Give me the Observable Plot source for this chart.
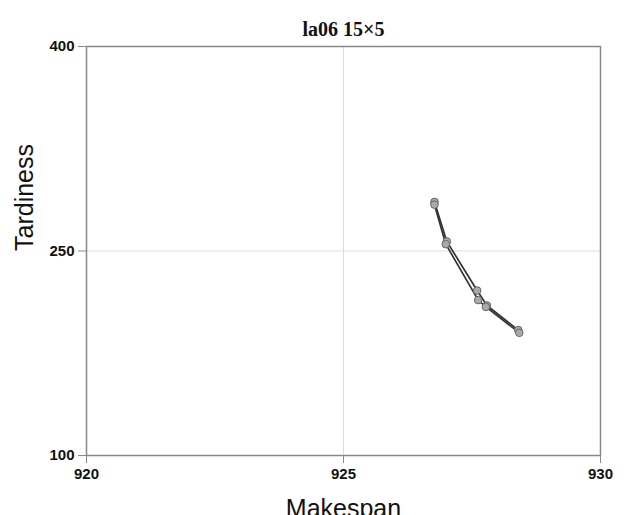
<!DOCTYPE html>
<html><head><meta charset="utf-8">
<script src="https://cdn.jsdelivr.net/npm/d3@7"></script>
<script src="https://cdn.jsdelivr.net/npm/@observablehq/plot@0.6"></script>
<style>body{margin:0;background:#fff}</style>
</head><body><div id="chart"></div>
<script>
const title = "la06 15×5";
const xLabel = "Makespan";
const yLabel = "Tardiness";
const xTicks = [920, 925, 930];
const yTicks = [100, 250, 400];
const seriesA_makespan = [926.77, 927.01, 927.60, 927.79, 928.40];
const seriesA_tardiness = [286, 257, 221, 210, 192];
const seriesB_makespan = [926.77, 926.99, 927.62, 927.77, 928.42];
const seriesB_tardiness = [284, 255, 214, 209, 190];

const data = [
  ...seriesA_makespan.map((x, i) => ({s: "A", x, y: seriesA_tardiness[i]})),
  ...seriesB_makespan.map((x, i) => ({s: "B", x, y: seriesB_tardiness[i]}))
];

const sans = "'Liberation Sans', Arial, Helvetica, sans-serif";
const serif = "'Liberation Serif', 'Times New Roman', serif";

const chart = Plot.plot({
  width: 637, height: 515,
  marginLeft: 86, marginRight: 37, marginTop: 46, marginBottom: 60,
  style: {fontFamily: sans, background: "#fff"},
  x: {domain: [920, 930]},
  y: {domain: [100, 400]},
  marks: [
    Plot.gridX([925], {stroke: "#ddd", strokeOpacity: 1}),
    Plot.gridY([250], {stroke: "#ddd", strokeOpacity: 1}),
    Plot.frame({stroke: "#888", strokeWidth: 1.5}),
    Plot.axisX(xTicks, {tickSize: 8, tickPadding: 5, stroke: "#888", fontSize: 15, fontWeight: "bold", fontFamily: sans, fill: "#111", label: null}),
    Plot.axisY(yTicks, {tickSize: 8, tickPadding: 4, stroke: "#888", fontSize: 15, fontWeight: "bold", fontFamily: sans, fill: "#111", label: null}),
    Plot.line(data, {x: "x", y: "y", z: "s", stroke: "#333", strokeWidth: 1.7}),
    Plot.dot(data, {x: "x", y: "y", r: 3.8, fill: "#aaa", stroke: "#666", strokeWidth: 1}),
    Plot.text([title], {frameAnchor: "top", dy: -11, lineAnchor: "bottom", fontFamily: serif, fontWeight: "bold", fontSize: 20, fill: "#111"}),
    Plot.text([yLabel], {frameAnchor: "left", dx: -62, rotate: -90, fontFamily: sans, fontSize: 25, fill: "#111"}),
    Plot.text([xLabel], {frameAnchor: "bottom", dy: 61, lineAnchor: "bottom", fontFamily: sans, fontSize: 25, fill: "#111"})
  ]
});
document.getElementById("chart").append(chart);
</script>
</body></html>
